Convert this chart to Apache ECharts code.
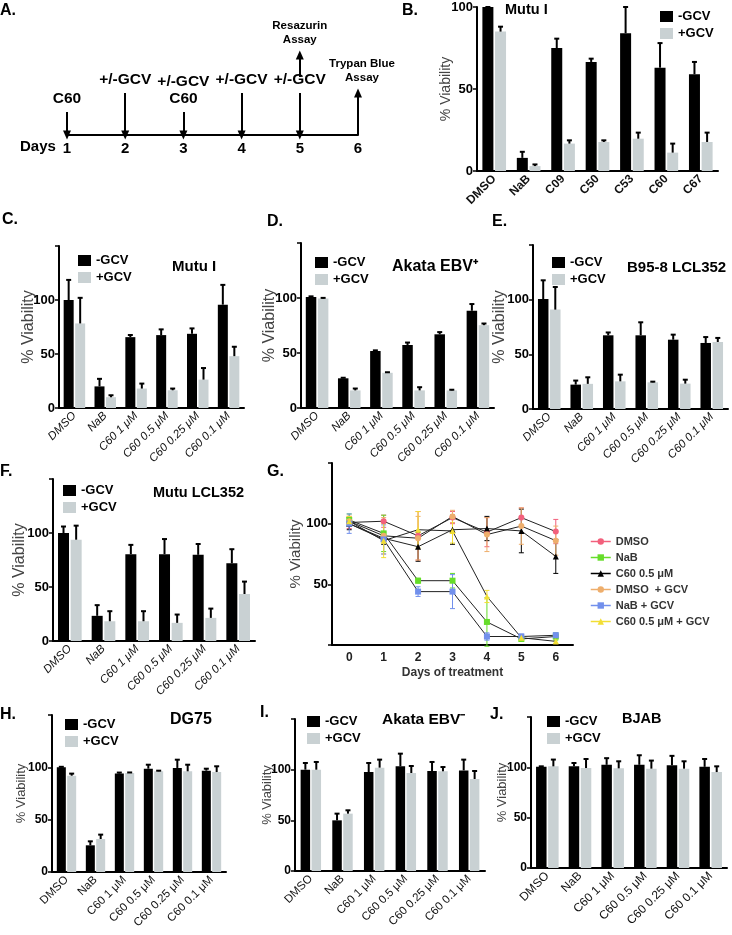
<!DOCTYPE html>
<html>
<head>
<meta charset="utf-8">
<script src="https://cdn.jsdelivr.net/npm/echarts@6/dist/echarts.min.js"></script>
<style>
  html, body { margin: 0; background: #fff; }
  #chart { width: 732px; height: 935px; }
</style>
</head>
<body>
<div id="chart"></div>
<script>
// ---------- data ----------
// A. timeline
const timelineDays = [1, 2, 3, 4, 5, 6];
const treatments = [[1, 'C60'], [2, '+/-GCV'], [3, '+/-GCV\nC60'], [4, '+/-GCV'], [5, '+/-GCV']];
const assays = [[5, 'Resazurin\nAssay'], [6, 'Trypan Blue\nAssay']];

// bar panels
const compoundCats = ['DMSO', 'NaB', 'C09', 'C50', 'C53', 'C60', 'C67'];
const doseCats = ['DMSO', 'NaB', 'C60 1 \u03bcM', 'C60 0.5 \u03bcM', 'C60 0.25 \u03bcM', 'C60 0.1 \u03bcM'];

const bMinus = [100, 8, 75, 66.5, 84, 63, 59];
const bMinusErr = [0, 3.7, 5.7, 2, 16, 15, 7.5];
const bPlus = [85, 3, 16.7, 17.7, 19.7, 11.2, 17.7];
const bPlusErr = [3, 1, 2, 1, 3.7, 5.5, 5.7];

const cMinus = [100, 20, 65.6, 67.5, 68.7, 95.7];
const cMinusErr = [18.6, 7, 2, 5.3, 5, 18.3];
const cPlus = [78.3, 10, 18, 16.4, 26.3, 48];
const cPlusErr = [23.7, 1.8, 4.6, 1.6, 10.7, 8.7];

const dMinus = [101, 27, 51.8, 57.3, 67, 88.4];
const dMinusErr = [0.5, 0.5, 0.6, 2.2, 2, 6.1];
const dPlus = [99.5, 16, 32, 16, 16, 75.3];
const dPlusErr = [0.6, 1.7, 0.5, 2.9, 0.6, 1.5];

const eMinus = [100.6, 22.3, 67.4, 67.4, 63.4, 60.4];
const eMinusErr = [17.1, 3.7, 2.6, 11.9, 4.6, 5.4];
const ePlus = [90.9, 23, 25.3, 24.4, 23.2, 61.3];
const ePlusErr = [20.7, 6, 6.1, 0.6, 3.6, 3.7];

const fMinus = [100, 23.3, 80.4, 80.4, 79.8, 72];
const fMinusErr = [6, 9.9, 8.6, 14, 10, 13];
const fPlus = [93.8, 18.3, 18.3, 16.8, 21.4, 43.5];
const fPlusErr = [13, 9.3, 9.3, 7.7, 8.6, 11.5];

const hMinus = [100, 25.5, 94, 98.7, 99.4, 96.8];
const hMinusErr = [0.5, 3.8, 1, 3.8, 7.9, 1.9];
const hPlus = [92, 31.5, 94.6, 96.2, 96.2, 95.5];
const hPlusErr = [2, 4.2, 0.5, 0.6, 6.3, 5.5];

const iMinus = [100, 50, 97.7, 103.3, 98.7, 99.3];
const iMinusErr = [6.6, 6.6, 8.9, 12.5, 8.9, 10.6];
const iPlus = [100, 56.6, 102, 96.7, 98.4, 90.8];
const iPlusErr = [7.6, 3.3, 7.9, 6.9, 4.2, 7.9];

const jMinus = [100.5, 101, 102.5, 102.5, 102, 100.5];
const jMinusErr = [0.5, 3.3, 6.6, 9.5, 9.4, 7.8];
const jPlus = [101, 99.3, 99, 98.7, 98.7, 95.3];
const jPlusErr = [6.7, 9, 7, 8, 7.3, 5.7];

// G. time course
const gDays = ['0', '1', '2', '3', '4', '5', '6'];
const gNames = ['DMSO', 'NaB', 'C60 0.5 \u03bcM', 'DMSO  + GCV', 'NaB + GCV', 'C60 0.5 \u03bcM + GCV'];
const gDmso = [101, 102, 90, 105, 93, 105, 93.5];
const gNab = [103, 92, 53, 53, 19, 5, 7];
const gC60 = [100, 88, 81, 95, 96, 94, 73];
const gDmsoGcv = [102, 90, 88, 106, 91, 98, 86];
const gNabGcv = [100, 87, 44, 44, 7, 7, 8];
const gC60Gcv = [102, 86, 95, 94, 40, 6, 3];
const gDmsoErr = [5, 5, 20, 5, 12, 8, 10];
const gNabErr = [5, 15, 2, 6, 20, 2, 3];
const gC60Err = [5, 5, 12, 12, 10, 18, 14];
const gDmsoGcvErr = [4, 15, 18, 5, 14, 15, 12];
const gNabGcvErr = [8, 12, 4, 14, 3, 2, 2];
const gC60GcvErr = [4, 14, 15, 10, 5, 2, 2];

// ---------- chart ----------
const FONT = "'Liberation Sans', Arial, sans-serif";
const NARROW = "'Liberation Sans Narrow', 'Liberation Sans', Arial, sans-serif";
const GRAY = '#c9d1d3';

const grids = [], xAxes = [], yAxes = [], series = [], titles = [], legends = [];

function addText(text, left, top, size) {
  titles.push({
    text: text, left: left, top: top, padding: 0,
    textStyle: { fontSize: size, fontWeight: 'bold', color: '#000', fontFamily: FONT }
  });
}

function errRender(offset, color, both, lw, cap) {
  return function (params, api) {
    const i = api.value(0), v = api.value(1), e = api.value(2);
    const p0 = api.coord([i, both ? v - e : v]);
    const p1 = api.coord([i, v + e]);
    const x = p0[0] + offset;
    const kids = [
      { type: 'line', shape: { x1: x, y1: p0[1], x2: x, y2: p1[1] }, style: { stroke: color, lineWidth: lw } },
      { type: 'line', shape: { x1: x - cap, y1: p1[1], x2: x + cap, y2: p1[1] }, style: { stroke: color, lineWidth: lw } }
    ];
    if (both) {
      kids.push({ type: 'line', shape: { x1: x - cap, y1: p0[1], x2: x + cap, y2: p0[1] }, style: { stroke: color, lineWidth: lw } });
    }
    return { type: 'group', children: kids };
  };
}

function yAxisCfg(gi, max, p) {
  return {
    gridIndex: gi, type: 'value', min: 0, max: max, interval: 50,
    axisLine: { show: true, lineStyle: { color: '#000', width: 2 } },
    axisTick: { show: true, length: 4, lineStyle: { color: '#000', width: 1.5 } },
    splitLine: { show: false },
    axisLabel: {
      formatter: p.yFmt || (v => (v > 100 ? '' : v)),
      fontSize: p.yFont, fontWeight: 'bold', color: '#000', fontFamily: NARROW, margin: 4
    },
    name: '% Viability', nameLocation: 'middle', nameGap: p.nameGap, nameMoveOverlap: false,
    nameTextStyle: { fontSize: p.nameFont, color: '#444', fontFamily: FONT }
  };
}

function barPanel(p) {
  const gi = grids.length;
  grids.push({ left: p.left, top: p.top, width: p.width, height: p.height });
  xAxes.push({
    gridIndex: gi, type: 'category', data: p.cats,
    axisLine: { lineStyle: { color: '#000', width: 2 } },
    axisTick: { alignWithLabel: true, length: 4, lineStyle: { color: '#000', width: 1.5 } },
    axisLabel: {
      interval: 0, rotate: 45, fontSize: p.xFont, color: '#111', margin: 6, fontFamily: FONT,
      fontStyle: p.italic ? 'italic' : 'normal', fontWeight: p.xBold ? 'bold' : 'normal'
    }
  });
  yAxes.push(yAxisCfg(gi, p.max, p));
  const off = p.barW * 1.15 / 2;
  series.push({ type: 'bar', name: '-GCV', xAxisIndex: gi, yAxisIndex: gi, data: p.minus,
    barWidth: p.barW, barGap: '15%', itemStyle: { color: '#000' } });
  series.push({ type: 'bar', name: '+GCV', xAxisIndex: gi, yAxisIndex: gi, data: p.plus,
    barWidth: p.barW, itemStyle: { color: GRAY } });
  series.push({ type: 'custom', xAxisIndex: gi, yAxisIndex: gi, z: 5, silent: true,
    encode: { x: 0, y: 1 }, renderItem: errRender(-off, '#000', false, 2, 2.5),
    data: p.minus.map((v, i) => [i, v, p.minusErr[i]]) });
  series.push({ type: 'custom', xAxisIndex: gi, yAxisIndex: gi, z: 5, silent: true,
    encode: { x: 0, y: 1 }, renderItem: errRender(off, '#000', false, 2, 2.5),
    data: p.plus.map((v, i) => [i, v, p.plusErr[i]]) });
  legends.push({
    left: p.leg[0], top: p.leg[1], orient: 'vertical', padding: 0, itemGap: 4,
    itemWidth: 13, itemHeight: 11, icon: 'rect', data: ['-GCV', '+GCV'],
    textStyle: { fontSize: p.legFont, fontWeight: 'bold', color: '#000', fontFamily: FONT }
  });
  addText(p.title, p.titlePos[0], p.titlePos[1], p.titleFont);
  addText(p.letter, p.letterPos[0], p.letterPos[1], 16);
}

// ---- A. timeline ----
(function () {
  const gi = grids.length;
  grids.push({ left: 67, top: 35, width: 291, height: 100 });
  xAxes.push({
    gridIndex: gi, type: 'value', min: 1, max: 6, interval: 1,
    axisLine: { lineStyle: { color: '#000', width: 2 } }, axisTick: { show: false },
    splitLine: { show: false },
    axisLabel: { fontSize: 15, fontWeight: 'bold', color: '#000', margin: 6, fontFamily: FONT }
  });
  yAxes.push({ gridIndex: gi, type: 'value', min: 0, max: 100, show: false });
  const pts = [], arrows = [];
  treatments.forEach(t => {
    const top = /C60$/.test(t[1]) ? 23 : 42;
    pts.push({ name: t[1], value: [t[0], top], label: { distance: 4 } });
    arrows.push([{ coord: [t[0], top] }, { coord: [t[0], 0] }]);
  });
  assays.forEach(a => {
    const from = a[0] === 6 ? 0 : 58;
    const to = a[0] === 6 ? 42 : 80;
    pts.push({ name: a[1], value: [a[0], to], label: { fontSize: 11.5, lineHeight: 14, distance: 8, offset: [a[0] === 6 ? 4 : 0, 0] } });
    arrows.push([{ coord: [a[0], from] }, { coord: [a[0], to] }]);
  });
  series.push({
    type: 'scatter', xAxisIndex: gi, yAxisIndex: gi, symbolSize: 1, silent: true,
    itemStyle: { color: 'rgba(0,0,0,0)' },
    label: { show: true, position: 'top', formatter: '{b}', fontSize: 15.5, lineHeight: 17, opacity: 1,
      fontWeight: 'bold', color: '#000', fontFamily: FONT, align: 'center' },
    data: pts,
    markLine: {
      silent: true, symbol: ['none', 'triangle'], symbolSize: [8, 9], animation: false,
      lineStyle: { color: '#000', width: 2, type: 'solid' }, label: { show: false },
      data: arrows
    }
  });
  addText('Days', 20, 139, 15);
  addText('A.', 0, 3, 16);
})();

// ---- B ----
barPanel({ left: 477, top: 7, width: 241, height: 164, max: 100, cats: compoundCats,
  minus: bMinus, minusErr: bMinusErr, plus: bPlus, plusErr: bPlusErr, barW: 11,
  xFont: 12, xBold: true, yFont: 13, nameFont: 14, nameGap: 24,
  yFmt: v => v, leg: [660, 10], legFont: 13, title: 'Mutu I', titlePos: [505, 2], titleFont: 14.5,
  letter: 'B.', letterPos: [402, 3] });

// ---- C ----
barPanel({ left: 59, top: 246, width: 185, height: 162, max: 150, cats: doseCats,
  minus: cMinus, minusErr: cMinusErr, plus: cPlus, plusErr: cPlusErr, barW: 10,
  xFont: 11.5, italic: true, yFont: 13, nameFont: 16, nameGap: 22,
  leg: [78, 254], legFont: 13, title: 'Mutu I', titlePos: [172, 259], titleFont: 15,
  letter: 'C.', letterPos: [2, 212] });

// ---- D ----
barPanel({ left: 301, top: 243, width: 193, height: 165, max: 150, cats: doseCats,
  minus: dMinus, minusErr: dMinusErr, plus: dPlus, plusErr: dPlusErr, barW: 10.5,
  xFont: 11.5, italic: true, yFont: 13, nameFont: 16, nameGap: 23,
  leg: [315, 256], legFont: 13, title: 'Akata EBV\u207a', titlePos: [392, 259], titleFont: 16,
  letter: 'D.', letterPos: [267, 214] });

// ---- E ----
barPanel({ left: 533, top: 245, width: 195, height: 164, max: 150, cats: doseCats,
  minus: eMinus, minusErr: eMinusErr, plus: ePlus, plusErr: ePlusErr, barW: 10.5,
  xFont: 11.5, italic: true, yFont: 13, nameFont: 16, nameGap: 25,
  leg: [552, 256], legFont: 13, title: 'B95-8 LCL352', titlePos: [627, 260], titleFont: 15,
  letter: 'E.', letterPos: [492, 214] });

// ---- F ----
barPanel({ left: 53, top: 479, width: 202, height: 162, max: 150, cats: doseCats,
  minus: fMinus, minusErr: fMinusErr, plus: fPlus, plusErr: fPlusErr, barW: 11,
  xFont: 11.5, italic: true, yFont: 13, nameFont: 16, nameGap: 25,
  leg: [63, 484], legFont: 13, title: 'Mutu LCL352', titlePos: [153, 485], titleFont: 14.5,
  letter: 'F.', letterPos: [0, 464] });

// ---- G ----
(function () {
  const gi = grids.length;
  grids.push({ left: 332, top: 463, width: 241, height: 182 });
  xAxes.push({
    gridIndex: gi, type: 'category', data: gDays,
    axisLine: { lineStyle: { color: '#000', width: 2 } },
    axisTick: { alignWithLabel: true, length: 4, lineStyle: { color: '#000', width: 1.5 } },
    axisLabel: { fontSize: 12, fontWeight: 'bold', color: '#222', margin: 7, fontFamily: FONT },
    name: 'Days of treatment', nameLocation: 'middle', nameGap: 22,
    nameTextStyle: { fontSize: 12, fontWeight: 'bold', color: '#333', fontFamily: FONT }
  });
  yAxes.push(yAxisCfg(gi, 150, { yFont: 13, nameFont: 15, nameGap: 29,
    yFmt: v => (v === 50 || v === 100 ? v : '') }));
  const vals = [gDmso, gNab, gC60, gDmsoGcv, gNabGcv, gC60Gcv];
  const errs = [gDmsoErr, gNabErr, gC60Err, gDmsoGcvErr, gNabGcvErr, gC60GcvErr];
  const colors = ['#f2607c', '#66dd2a', '#000000', '#eeae6c', '#7290ec', '#f2de34'];
  const symbols = ['circle', 'rect', 'triangle', 'circle', 'rect', 'triangle'];
  gNames.forEach((name, k) => {
    series.push({ type: 'custom', xAxisIndex: gi, yAxisIndex: gi, z: 2, silent: true,
      encode: { x: 0, y: 1 }, renderItem: errRender(0, colors[k], true, 1, 2.5),
      data: vals[k].map((v, i) => [i, v, errs[k][i]]) });
    series.push({ type: 'line', name: name, xAxisIndex: gi, yAxisIndex: gi, data: vals[k], z: 3,
      symbol: symbols[k], symbolSize: 6, itemStyle: { color: colors[k] },
      lineStyle: { color: '#222', width: 1 } });
  });
  legends.push({
    left: 590, top: 536, orient: 'vertical', padding: 0, itemGap: 5, itemWidth: 20, itemHeight: 8,
    data: gNames.map((n, k) => ({ name: n,
      itemStyle: { color: colors[k] }, lineStyle: { color: colors[k], width: 1.5 } })),
    textStyle: { fontSize: 11, fontWeight: 'bold', color: '#333', fontFamily: FONT }
  });
  addText('G.', 267, 464, 16);
})();

// ---- H ----
barPanel({ left: 52, top: 715, width: 174, height: 157, max: 150, cats: doseCats,
  minus: hMinus, minusErr: hMinusErr, plus: hPlus, plusErr: hPlusErr, barW: 9,
  xFont: 11.5, yFont: 12, nameFont: 13, nameGap: 24,
  leg: [65, 718], legFont: 13, title: 'DG75', titlePos: [170, 712], titleFont: 16,
  letter: 'H.', letterPos: [0, 707] });

// ---- I ----
barPanel({ left: 295, top: 719, width: 190, height: 152, max: 150, cats: doseCats,
  minus: iMinus, minusErr: iMinusErr, plus: iPlus, plusErr: iPlusErr, barW: 9.5,
  xFont: 11.5, yFont: 12, nameFont: 13, nameGap: 21,
  leg: [307, 715], legFont: 13, title: 'Akata EBV\u207b', titlePos: [382, 712], titleFont: 15.5,
  letter: 'I.', letterPos: [260, 705] });

// ---- J ----
barPanel({ left: 531, top: 717, width: 196, height: 151, max: 150, cats: doseCats,
  minus: jMinus, minusErr: jMinusErr, plus: jPlus, plusErr: jPlusErr, barW: 10.5,
  xFont: 12, yFont: 12, nameFont: 13, nameGap: 22,
  leg: [547, 715], legFont: 13, title: 'BJAB', titlePos: [622, 711], titleFont: 14.5,
  letter: 'J.', letterPos: [490, 707] });

const chart = echarts.init(document.getElementById('chart'));
chart.setOption({
  animation: false,
  backgroundColor: '#fff',
  textStyle: { fontFamily: FONT },
  title: titles,
  legend: legends,
  grid: grids,
  xAxis: xAxes,
  yAxis: yAxes,
  series: series
});
</script>
</body>
</html>
